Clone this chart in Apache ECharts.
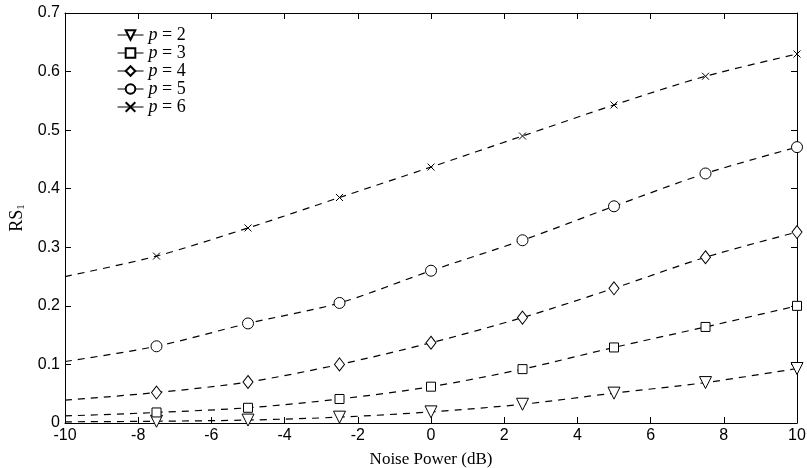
<html>
  <head>
    <meta charset="utf-8">
    <script src="https://cdn.jsdelivr.net/npm/echarts@6/dist/echarts.min.js"></script>
    <style>
      body { margin: 0; background-color: #fff; }
      #chart { width: 807px; height: 468px; }
    </style>
  </head>
  <body>
    <div id="chart"></div>
  </body>
  <script>
    // noise power (dB); the first point only starts the curve, no marker there
    var noise = [-10, -7.5, -5, -2.5, 0, 2.5, 5, 7.5, 10];
    var p2 = [0.002, 0.003, 0.005, 0.010, 0.019, 0.032, 0.051, 0.069, 0.093];
    var p3 = [0.012, 0.018, 0.026, 0.041, 0.062, 0.092, 0.129, 0.164, 0.200];
    var p4 = [0.039, 0.052, 0.070, 0.100, 0.137, 0.180, 0.230, 0.283, 0.326];
    var p5 = [0.105, 0.131, 0.170, 0.205, 0.260, 0.312, 0.370, 0.426, 0.471];
    var p6 = [0.250, 0.285, 0.333, 0.385, 0.437, 0.490, 0.543, 0.592, 0.630];
    var pNames = ['2', '3', '4', '5', '6'];

    var crossPath = 'path://M0,0L10,10M10,0L0,10';
    var marks = [
      { symbol: 'triangle', rotate: 180, size: 12 },
      { symbol: 'rect', rotate: 0, size: 9 },
      { symbol: 'diamond', rotate: 0, size: [10, 13] },
      { symbol: 'circle', rotate: 0, size: 11 },
      { symbol: crossPath, rotate: 0, size: 7 }
    ];
    var allData = [p2, p3, p4, p5, p6];

    var chart = echarts.init(document.getElementById('chart'));

    var series = [];
    for (let i = 0; i < allData.length; i++) {
        var pts = [];
        for (let j = 0; j < noise.length; j++) {
            var pt = { value: [noise[j], allData[i][j]] };
            if (j === 0) { pt.symbol = 'none'; }
            pts.push(pt);
        }
        series.push({
            name: 'p' + pNames[i],
            type: 'line',
            smooth: 0.3,
            data: pts,
            symbol: marks[i].symbol,
            symbolSize: marks[i].size,
            symbolRotate: marks[i].rotate,
            showAllSymbol: true,
            clip: false,
            lineStyle: { color: '#000', width: 1.2, type: [7, 6] },
            itemStyle: { color: i === 4 ? '#000' : '#fff', borderColor: '#000', borderWidth: 1 },
            emphasis: { disabled: true },
            animation: false
        });
    }

    var tickFont = { fontFamily: 'Liberation Sans', fontSize: 16, color: '#000' };
    var boxLine = { onZero: false, lineStyle: { color: '#000', width: 1 } };
    var boxTick = { inside: true, length: 6, lineStyle: { color: '#000' } };

    var option = {
        animation: false,
        grid: { left: 65, right: 10, top: 13, bottom: 45, outerBoundsMode: 'none', containLabel: false },
        legend: {
            left: 112, top: 21, orient: 'vertical',
            itemWidth: 26, itemHeight: 12, itemGap: 0,
            data: series.map(s => s.name),
            lineStyle: { type: 'solid', width: 1 },
            formatter: function (name) { return '{i|p} = ' + name.slice(1); },
            textStyle: {
                fontFamily: 'Liberation Serif', fontSize: 18, lineHeight: 18, color: '#000',
                rich: { i: { fontFamily: 'Liberation Serif', fontStyle: 'italic', fontSize: 18, lineHeight: 18 } }
            }
        },
        xAxis: [{
            type: 'value', min: -10, max: 10, interval: 2,
            name: 'Noise Power (dB)', nameLocation: 'middle', nameGap: 28,
            nameTextStyle: { fontFamily: 'Liberation Serif', fontSize: 17, color: '#000' },
            axisLine: boxLine,
            axisTick: boxTick,
            axisLabel: Object.assign({ margin: 5 }, tickFont),
            splitLine: { show: false }
        }, {
            type: 'value', min: -10, max: 10, interval: 2, position: 'top',
            axisLine: boxLine,
            axisTick: boxTick,
            axisLabel: { show: false },
            splitLine: { show: false }
        }],
        yAxis: [{
            type: 'value', min: 0, max: 0.7, interval: 0.1,
            name: '{a|RS}{s|1}', nameLocation: 'middle', nameGap: 36,
            nameTextStyle: {
                color: '#000',
                rich: {
                    a: { fontFamily: 'Liberation Serif', fontSize: 18, color: '#000' },
                    s: { fontFamily: 'Liberation Serif', fontSize: 11, color: '#000', verticalAlign: 'bottom', padding: [9, 0, 0, 0] }
                }
            },
            axisLine: boxLine,
            axisTick: boxTick,
            axisLabel: Object.assign({ margin: 5, formatter: v => v === 0 ? '0' : v.toFixed(1) }, tickFont),
            splitLine: { show: false }
        }, {
            type: 'value', min: 0, max: 0.7, interval: 0.1, position: 'right',
            axisLine: boxLine,
            axisTick: boxTick,
            axisLabel: { show: false },
            splitLine: { show: false }
        }],
        series: series
    };
    chart.setOption(option);
  </script>
</html>
